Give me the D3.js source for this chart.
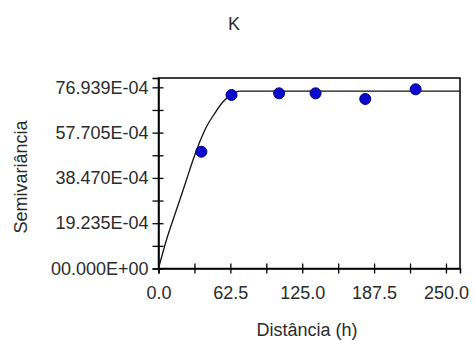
<!DOCTYPE html>
<html>
<head>
<meta charset="utf-8">
<script src="https://cdn.jsdelivr.net/npm/d3@7"></script>
<style>
  body { margin: 0; background: #fff; }
  text { font-family: "Liberation Sans", Arial, sans-serif; fill: #2b2b2b; }
</style>
</head>
<body>
<div id="chart"></div>
<script>
// experimental semivariogram points (values in units of 1E-04)
var lagDist = [37.3, 63.5, 104.9, 136.6, 179.8, 223.6];
var semivar = [49.6, 73.7, 74.4, 74.4, 72.0, 76.1];

// fitted model curve
var modelDist = [0, 6.9, 12.6, 18.5, 24.3, 30.0, 35.9, 41.7, 48.9, 56.1, 63.5, 70.7, 262.2];
var modelVal = [0, 12.1, 20.6, 29.1, 37.6, 46.1, 53.8, 60.2, 65.9, 70.8, 73.9, 75.3, 75.3];

// ticks
var yTicks = [0, 19.235, 38.470, 57.705, 76.939];
var yTickLabels = ["00.000E+00", "19.235E-04", "38.470E-04", "57.705E-04", "76.939E-04"];
var yMinor = [9.6175, 28.8525, 48.0875, 67.322];
var xTicks = [0, 62.5, 125, 187.5, 250];
var xTickLabels = ["0.0", "62.5", "125.0", "187.5", "250.0"];
var xMinor = [31.25, 93.75, 156.25, 218.75];

var svgWidth = 475;
var svgHeight = 341;

var margin = { top: 78, right: 15, bottom: 72.5, left: 158.5 };
var chartWidth = svgWidth - margin.left - margin.right;
var chartHeight = svgHeight - margin.top - margin.bottom;

var svg = d3.select("#chart")
  .append("svg")
  .attr("width", svgWidth)
  .attr("height", svgHeight);

var chartGroup = svg.append("g")
  .attr("transform", `translate(${margin.left}, ${margin.top})`);

var xScale = d3.scaleLinear()
  .domain([0, 262.2])
  .range([0, chartWidth]);

var yScale = d3.scaleLinear()
  .domain([0, 80.9])
  .range([chartHeight, 0]);

// frame
chartGroup.append("rect")
  .attr("width", chartWidth)
  .attr("height", chartHeight)
  .attr("fill", "none")
  .attr("stroke", "#000")
  .attr("stroke-width", 1.5);

// axes (ticks straddle the line)
var bottomAxis = d3.axisBottom(xScale)
  .tickValues(xTicks.concat(xMinor))
  .tickSize(5)
  .tickPadding(13)
  .tickFormat(d => {
    var i = xTicks.indexOf(d);
    return i < 0 ? "" : xTickLabels[i];
  });

var leftAxis = d3.axisLeft(yScale)
  .tickValues(yTicks.concat(yMinor))
  .tickSize(6)
  .tickPadding(4)
  .tickFormat(d => {
    var i = yTicks.indexOf(d);
    return i < 0 ? "" : yTickLabels[i];
  });

var xAxisG = chartGroup.append("g")
  .attr("transform", "translate(0," + chartHeight + ")")
  .call(bottomAxis);
xAxisG.select(".domain").attr("stroke-width", 1.5);
xAxisG.selectAll(".tick line").attr("y1", -5).attr("stroke-width", 1.3);
xAxisG.selectAll("text").attr("font-size", 18).attr("font-family", "Liberation Sans, Arial, sans-serif").attr("fill", "#2b2b2b");

var yAxisG = chartGroup.append("g")
  .call(leftAxis);
yAxisG.select(".domain").attr("stroke-width", 1.5);
yAxisG.selectAll(".tick line").attr("x1", 5).attr("stroke-width", 1.3);
yAxisG.selectAll("text").attr("font-size", 18).attr("font-family", "Liberation Sans, Arial, sans-serif").attr("fill", "#2b2b2b");

// model line
var modelData = modelDist.map((d, i) => ({ h: d, g: modelVal[i] }));
var line = d3.line()
  .x(d => xScale(d.h))
  .y(d => yScale(d.g))
  .curve(d3.curveMonotoneX);

chartGroup.append("path")
  .datum(modelData)
  .attr("d", line)
  .attr("fill", "none")
  .attr("stroke", "#111")
  .attr("stroke-width", 1.3);

// points
var pts = lagDist.map((d, i) => ({ h: d, g: semivar[i] }));
chartGroup.selectAll("circle")
  .data(pts)
  .enter()
  .append("circle")
  .attr("cx", d => xScale(d.h))
  .attr("cy", d => yScale(d.g))
  .attr("r", 5.5)
  .attr("fill", "#0b0bd0")
  .attr("stroke", "#000080")
  .attr("stroke-width", 1);

// titles
svg.append("text")
  .attr("x", 234)
  .attr("y", 30)
  .attr("text-anchor", "middle")
  .attr("font-size", 18)
  .text("K");

svg.append("text")
  .attr("transform", "translate(27, 177) rotate(-90)")
  .attr("text-anchor", "middle")
  .attr("font-size", 18)
  .text("Semivariância");

svg.append("text")
  .attr("x", 307)
  .attr("y", 336)
  .attr("text-anchor", "middle")
  .attr("font-size", 18)
  .text("Distância (h)");
</script>
</body>
</html>
